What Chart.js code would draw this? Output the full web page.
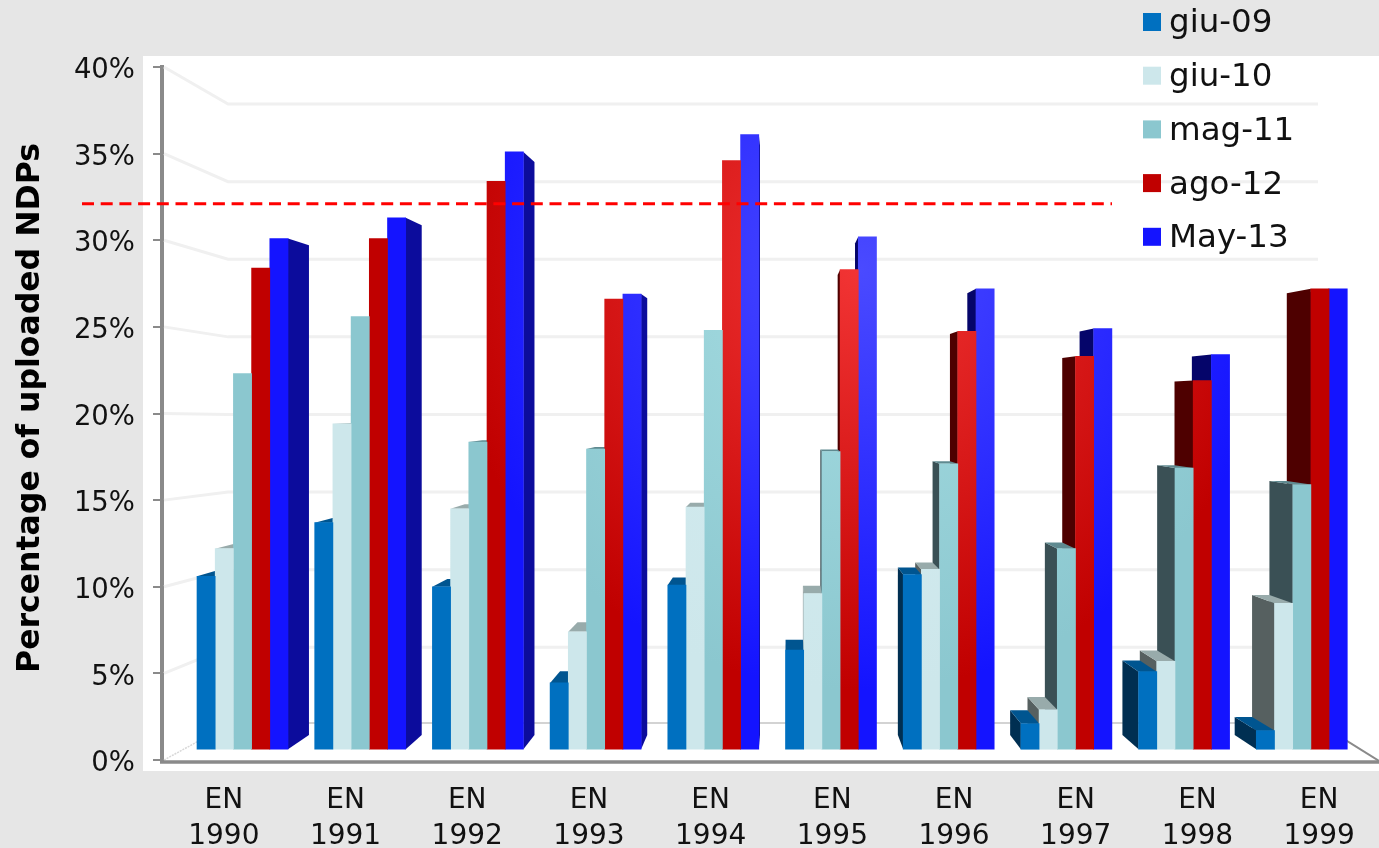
<!DOCTYPE html>
<html>
<head>
<meta charset="utf-8">
<style>
html,body{margin:0;padding:0;background:#e6e6e6;overflow:hidden}
#wrap{width:1379px;height:848px;position:relative}
canvas{display:block}
</style>
<script src="https://cdn.jsdelivr.net/npm/chart.js@4"></script>
</head>
<body>
<div id="wrap"><canvas id="c" width="1379" height="848"></canvas></div>
<script>
const categories = [['EN','1990'],['EN','1991'],['EN','1992'],['EN','1993'],['EN','1994'],['EN','1995'],['EN','1996'],['EN','1997'],['EN','1998'],['EN','1999']];
const seriesNames = ['giu-09','giu-10','mag-11','ago-12','May-13'];
const giu09 = [10.6,13.7,10.0,4.45,10.1,6.35,10.7,2.1,5.1,1.7];
const giu10 = [12.2,19.4,14.5,7.4,14.6,9.6,11.0,2.9,5.7,9.05];
const mag11 = [22.3,25.6,18.35,17.95,24.8,17.8,17.1,12.2,16.85,15.9];
const ago12 = [28.4,30.1,33.4,26.6,34.6,28.3,24.75,23.3,21.9,27.2];
const may13 = [30.1,31.3,35.1,26.9,36.1,30.2,27.2,24.9,23.4,27.2];
const seriesValues = [giu09,giu10,mag11,ago12,may13];
const thresholdValue = 32.1;
const yTitle = 'Percentage of uploaded NDPs';

const frontColors = ['#0070C0','#CDE7EB','#8BC7CF','#C00000','#1414FF'];
const glowColors  = ['#0070C0','#D4ECF0','#A6DDE2','#F23434','#4A4AFF'];
const sideLeft    = ['#002F52','#566060','#3A5055','#4E0000','#05056A'];
const sideRight   = ['#002F52','#566060','#3A5055','#4E0000','#0C0C9C'];
const topColors   = ['#005590','#98ABAB','#5F8A90','#861010','#0C0C9C'];
const FONT = '"DejaVu Sans", sans-serif';
const GRAY = '#8a8a8a';

// perspective helpers
const VPX = 787, VPY = 400, KY = 0.041;
const back = (x,y)=>[x+(x<VPX?0.042:0.046)*(VPX-x), y+KY*(VPY-y)];
const WVX = 797, WVY = 423, WK = 0.104;
const wall = (x,y)=>[x+WK*(WVX-x), y+WK*(WVY-y)];

function poly(ctx,pts,fill){
  ctx.beginPath();
  pts.forEach((p,i)=> i?ctx.lineTo(p[0],p[1]):ctx.moveTo(p[0],p[1]));
  ctx.closePath(); ctx.fillStyle=fill; ctx.fill();
}

const scene = {
  id:'scene',
  beforeDraw(chart){
    const c=chart.ctx;
    c.save(); c.fillStyle='#ffffff'; c.fillRect(143,56,1236,715); c.restore();
  },
  beforeDatasetsDraw(chart){
    const c=chart.ctx, ys=chart.scales.y, a=chart.chartArea;
    c.save();
    // walls
    ys.ticks.forEach(t=>{
      if(t.value===0) return;
      const y=ys.getPixelForValue(t.value);
      const b=wall(a.left,y);
      c.strokeStyle='#f0f0f0'; c.lineWidth=3;
      c.beginPath(); c.moveTo(a.left+2,y); c.lineTo(b[0],b[1]); c.lineTo(1318,b[1]); c.stroke();
    });
    const y0=ys.getPixelForValue(0), b0=wall(a.left,y0);
    c.strokeStyle='#d8d8d8'; c.lineWidth=1.5; c.setLineDash([2,1]);
    c.beginPath(); c.moveTo(a.left+2,y0); c.lineTo(b0[0],b0[1]); c.stroke();
    c.setLineDash([]);
    c.strokeStyle='#c4c4c4'; c.lineWidth=1.5;
    c.beginPath(); c.moveTo(b0[0],b0[1]-2); c.lineTo(1318,b0[1]-2); c.stroke();
    c.strokeStyle=GRAY; c.lineWidth=2;
    c.beginPath(); c.moveTo(1318,b0[1]-2); c.lineTo(a.right,y0+1); c.stroke();
    // floor front edge
    c.strokeStyle=GRAY; c.lineWidth=3.5;
    c.beginPath(); c.moveTo(a.left-2,y0+2); c.lineTo(a.right,y0+2); c.stroke();
    c.lineWidth=4;
    c.beginPath(); c.moveTo(a.left,y0+3); c.lineTo(a.left,y0); c.stroke();
    // bar depth faces
    const bars=[];
    seriesValues.forEach((s,d)=>{
      chart.getDatasetMeta(d).data.forEach(el=>{
        const p=el.getProps(['x','y','base','width'],true);
        bars.push({d,x0:p.x-p.width/2,x1:p.x+p.width/2,y:p.y,base:p.base});
      });
    });
    const left=bars.filter(b=>b.x1<=VPX).sort((p,q)=>p.x0-q.x0);
    const right=bars.filter(b=>b.x1>VPX).sort((p,q)=>q.x0-p.x0);
    left.concat(right).forEach(b=>{
      const xs = b.x0>VPX ? b.x0 : b.x1;
      const fill = b.x0>VPX ? sideLeft[b.d] : sideRight[b.d];
      poly(c,[[xs,b.y],back(xs,b.y),back(xs,b.base),[xs,b.base]],fill);
      if(b.y>VPY){
        poly(c,[[b.x0,b.y],[b.x1,b.y],back(b.x1,b.y),back(b.x0,b.y)],topColors[b.d]);
      }
    });
    c.restore();
  },
  afterDatasetsDraw(chart){
    const c=chart.ctx, y=chart.scales.y.getPixelForValue(thresholdValue);
    c.save(); c.strokeStyle='#ff0000'; c.lineWidth=3; c.setLineDash([12,6.7]);
    c.beginPath(); c.moveTo(82,y); c.lineTo(1112,y); c.stroke(); c.restore();
  },
  afterDraw(chart){
    const c=chart.ctx;
    c.save();
    // y axis title
    c.translate(31,408); c.rotate(-Math.PI/2);
    c.font='bold 31.5px '+FONT; c.fillStyle='#000'; c.textAlign='center'; c.textBaseline='middle';
    c.fillText(yTitle,0,0);
    c.restore();
    // legend
    c.save();
    c.font='32.5px '+FONT; c.textBaseline='middle'; c.textAlign='left';
    seriesNames.forEach((n,i)=>{
      const yy=22+i*53.7;
      c.fillStyle=frontColors[i]; c.fillRect(1143,yy-9,18,18);
      c.fillStyle='#111'; c.fillText(n,1169,yy+2);
    });
    c.restore();
  }
};

function frontFill(i){
  return ctx=>{
    const g=ctx.chart.ctx.createRadialGradient(860,270,0,860,270,420);
    g.addColorStop(0,glowColors[i]); g.addColorStop(1,frontColors[i]);
    return g;
  };
}

const datasets = seriesNames.map((n,i)=>({
  label:n,
  data:seriesValues[i].map((v,k)=>({x:k,y:v})),
  xAxisID:'xBars', yAxisID:'y',
  base:0.62,
  backgroundColor:frontFill(i),
  borderWidth:0,
  barThickness:18.2
}));

new Chart(document.getElementById('c'),{
  type:'bar',
  data:{datasets},
  plugins:[scene],
  options:{
    responsive:false, animation:false,
    layout:{padding:{top:67,left:0,right:0,bottom:0}},
    plugins:{legend:{display:false},title:{display:false},tooltip:{enabled:false}},
    scales:{
      xBars:{type:'linear',display:false,offset:false,min:-0.684,max:9.656},
      x:{type:'category',labels:categories,position:'bottom',
        afterFit(s){s.height=88;},
        grid:{drawOnChartArea:false,drawTicks:false},
        border:{display:false},
        ticks:{color:'#111',font:{family:FONT,size:28,lineHeight:1.29},padding:23,autoSkip:false,maxRotation:0,labelOffset:1}
      },
      y:{min:0,max:40,position:'left',
        afterFit(s){s.width=162;},
        grid:{drawOnChartArea:false,drawTicks:true,tickLength:9,color:GRAY,lineWidth:2},
        border:{color:GRAY,width:4},
        ticks:{stepSize:5,color:'#111',font:{family:FONT,size:27.5},padding:18,labelOffset:4,callback:v=>v+'%'}
      }
    }
  }
});
</script>
</body>
</html>
